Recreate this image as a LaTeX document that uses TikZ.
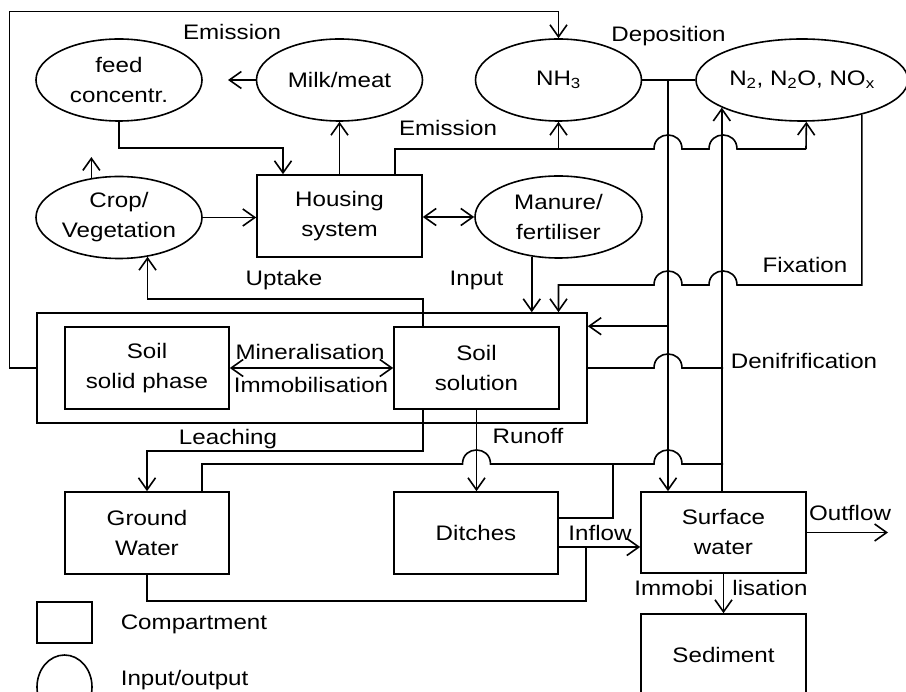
\documentclass[tikz,border=0pt]{standalone}
\usepackage{fontspec}
\setmainfont{Liberation Sans}[FakeStretch=1.15]
\usetikzlibrary{arrows.meta,shapes.geometric}
\begin{document}
\begin{tikzpicture}[x=1pt,y=-1pt,
  every node/.style={font=\fontsize{21}{30}\selectfont},
  line width=1.6pt,
  box/.style={draw,rectangle,inner sep=0pt,minimum width=165pt,minimum height=82pt,align=center},
  oval/.style={draw,ellipse,inner sep=0pt,minimum width=166pt,minimum height=82pt,align=center},
  arr/.style={-{Straight Barb[length=12pt,width=17pt]}},
  darr/.style={{Straight Barb[length=12pt,width=17pt]}-{Straight Barb[length=12pt,width=17pt]}},
  lab/.style={inner sep=0pt,anchor=base}]
\useasboundingbox (0,0) rectangle (906,692);
\clip (0,0) rectangle (906,692);

% nodes
\node[oval] (feed) at (119,80) {feed\\concentr.};
\node[oval] (milk) at (339.5,80) {Milk/meat};
\node[oval] (nh3) at (558.5,80) {NH\textsubscript{3}};
\node[oval,minimum width=212pt] (n2) at (802,80) {N\textsubscript{2}, N\textsubscript{2}O, NO\textsubscript{x}};
\node[oval] (crop) at (119,217.5) {Crop/\\Vegetation};
\node[box] (housing) at (339.5,216) {Housing\\system};
\node[oval,minimum width=167pt] (manure) at (558.5,217) {Manure/\\fertiliser};
\node[draw,rectangle,inner sep=0pt,minimum width=550.3pt,minimum height=110pt] (soil) at (311.85,368) {};
\node[box,minimum width=164pt] (solid) at (147,368) {Soil\\solid phase};
\node[box] (solution) at (476.5,368) {Soil\\solution};
\node[box,minimum width=164pt] (ground) at (147,533) {Ground\\Water};
\node[box,minimum width=164pt] (ditches) at (476,533) {Ditches};
\node[box,minimum height=81pt] (surface) at (723.5,532.5) {Surface\\water};
\node[box] (sediment) at (723.5,655) {Sediment};

% legend
\node[draw,rectangle,inner sep=0pt,minimum width=55pt,minimum height=41pt] (legbox) at (64.5,622.5) {};
\node[draw,ellipse,inner sep=0pt,minimum width=55pt,minimum height=64pt] (legoval) at (64.5,687) {};
\node[inner sep=0pt,anchor=base west] (legboxt) at (120,629.3) {Compartment};
\node[inner sep=0pt,anchor=base west] (legovalt) at (120,685) {Input/output};

% labels
\node[lab] (lemis1) at (232,40) {Emission};
\node[lab] (lemis2) at (448,135.7) {Emission};
\node[lab] (ldep) at (668.5,42) {Deposition};
\node[lab] (lupt) at (284,286) {Uptake};
\node[lab] (linp) at (476.5,286) {Input};
\node[lab] (lfix) at (805,272.7) {Fixation};
\node[lab] (lmin) at (310,360) {Mineralisation};
\node[lab] (limm) at (311,393) {Immobilisation};
\node[lab] (lden) at (804,369) {Denifrification};
\node[lab] (lleach) at (228,445) {Leaching};
\node[lab] (lrun) at (528,444) {Runoff};
\node[lab] (linf) at (600,540.7) {Inflow};
\node[lab] (lout) at (850,520.7) {Outflow};
\node[lab] (limm1) at (674,595.3) {Immobi};
\node[lab] (limm2) at (770,595.3) {lisation};

% free ends
\coordinate (milkout) at (228,80);
\coordinate (dep) at (668,80);
\coordinate (outend) at (888,532.5);

% outer loop to NH3
\draw[arr] (soil.west) -| (9.5,11.7) -| (nh3.north);
% milk/meat to feed
\draw[arr] (milk.west) -- (milkout);
% feed to housing
\draw[arr] (feed.south) |- (200,148) -| ([xshift=-56.5pt]housing.north);
% housing to milk
\draw[arr] (housing.north) -- (milk.south);
% crop up
\draw[arr] (crop.125) -- ++(0,-21);
% crop to housing
\draw[arr] (crop.east) -- (crop.east -| housing.west);
% housing <-> manure
\draw[darr] (housing.east |- manure.west) -- (manure.west);
% emission from housing
\draw ([xshift=55.5pt]housing.north) |- (558.5,149) -- (654,149)
  .. controls (654,130.3) and (682,130.3) .. (682,149) -- (709,149)
  .. controls (709,130.3) and (737,130.3) .. (737,149) -- (806,149);
\draw[arr] (558.5,149) -- (nh3.south);
\draw[arr] (806,149) -- (n2.276);
% deposition
\draw (nh3.east) -- (n2.west);
\draw[arr] (dep) -- (surface.north -| dep);
\draw[arr] (dep |- solution.north) -- (soil.east |- solution.north);
% vertical to N2 from surface water
\draw[arr] (n2.199 |- surface.north) -- (n2.199);
% fixation
\draw[arr] (n2.330) |- (737,285)
  .. controls (737,266.3) and (709,266.3) .. (709,285) -- (682,285)
  .. controls (682,266.3) and (654,266.3) .. (654,285) -| (soil.north -| nh3.south);
% input
\draw[arr] (manure.236) -- (manure.236 |- soil.north);
% uptake
\draw[arr] (solution.north -| housing.east) -- ++(0,-27) -| (crop.306);
% leaching
\draw[arr] (solution.south -| housing.east) -- ++(0,41) -| (ground.north);
% runoff
\draw[arr] (solution.south) -- (solution.south |- ditches.north);
% line from ground water and ditches
\draw ([xshift=55pt]ground.north) |- (462.5,464)
  .. controls (462.5,445.3) and (490.5,445.3) .. (490.5,464) -- (654,464)
  .. controls (654,445.3) and (682,445.3) .. (682,464) -- (723,464);
\draw ([yshift=15pt]ditches.east) -| (613,464);
% inflow
\draw[arr] ([yshift=-14pt]ditches.east) -- ([yshift=-14pt]ditches.east -| surface.west);
\draw (ground.south) |- (586,601) -- (586,547);
% outflow
\draw[arr] (surface.east) -- (outend);
% immobilisation to sediment
\draw[arr] (surface.south) -- (sediment.north);
% mineralisation
\draw[darr] (solid.east) -- (solution.west);
% denitrification
\draw (soil.east) -- (654,368)
  .. controls (654,349.3) and (682,349.3) .. (682,368) -- (723,368);
\end{tikzpicture}
\end{document}
